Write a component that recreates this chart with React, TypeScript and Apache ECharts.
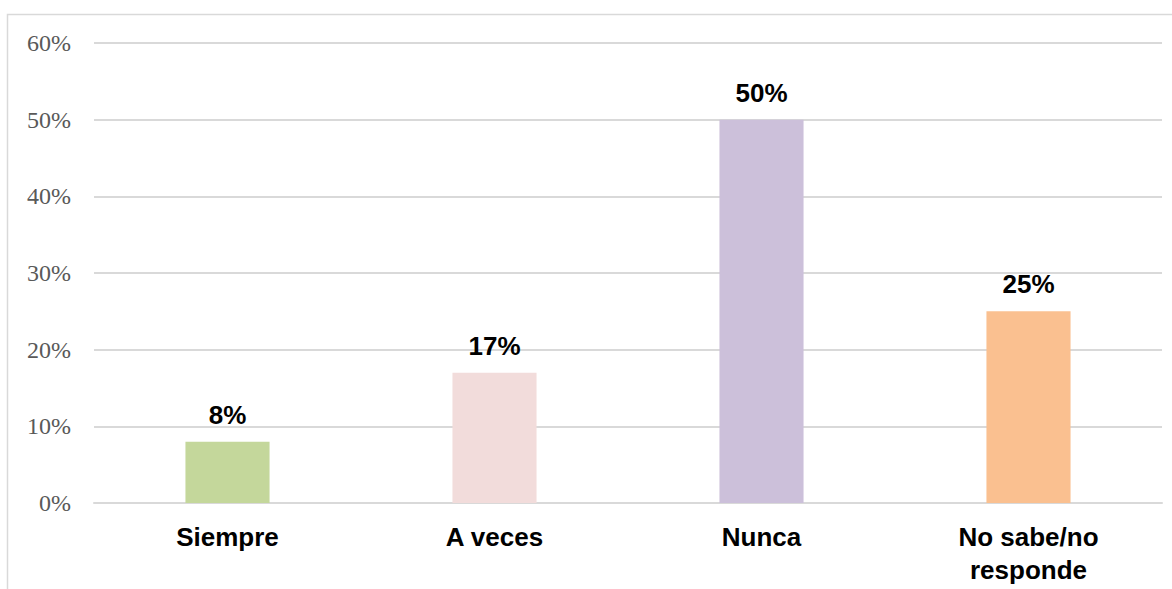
import React, { useEffect, useRef } from "react";
import * as echarts from "echarts";

const categories = ["Siempre", "A veces", "Nunca", "No sabe/no\nresponde"];
const values = [0.08, 0.17, 0.5, 0.25];
const barColors = ["#C4D79B", "#F2DCDB", "#CCC0DA", "#FAC090"];
const yTicks = [0, 0.1, 0.2, 0.3, 0.4, 0.5, 0.6];

export default function App() {
  const ref = useRef<HTMLDivElement>(null);
  useEffect(() => {
    if (!ref.current) return;
    const chart = echarts.init(ref.current, undefined, { renderer: "svg" });
    chart.setOption({
      animation: false,
      backgroundColor: "#ffffff",
      graphic: [
        {
          type: "rect",
          shape: { x: 7.5, y: 14.5, width: 1300, height: 800 },
          style: { fill: "none", stroke: "#D9D9D9", lineWidth: 1.5 },
          silent: true,
        },
      ],
      grid: { left: 94, right: 10, top: 43, bottom: 86, containLabel: false },
      xAxis: {
        type: "category",
        data: categories,
        axisLine: { show: true, lineStyle: { color: "#D9D9D9", width: 2 } },
        axisTick: { show: false },
        axisLabel: {
          color: "#000000",
          fontFamily: "Liberation Sans, Arial, sans-serif",
          fontWeight: "bold",
          fontSize: 26,
          lineHeight: 33,
          margin: 17,
          interval: 0,
        },
      },
      yAxis: {
        type: "value",
        min: yTicks[0],
        max: yTicks[yTicks.length - 1],
        interval: 0.1,
        axisLine: { show: false },
        axisTick: { show: false },
        splitLine: { lineStyle: { color: "#D9D9D9", width: 2 } },
        axisLabel: {
          color: "#595959",
          fontFamily: "Liberation Serif, Times New Roman, serif",
          fontSize: 24,
          margin: 23,
          formatter: (v: number) => Math.round(v * 100) + "%",
        },
      },
      series: [
        {
          type: "bar",
          barWidth: "31.5%",
          data: values.map((v, i) => ({ value: v, itemStyle: { color: barColors[i] } })),
          label: {
            show: true,
            position: "top",
            distance: 14,
            color: "#000000",
            fontFamily: "Liberation Sans, Arial, sans-serif",
            fontWeight: "bold",
            fontSize: 26,
            formatter: (p: any) => Math.round(p.value * 100) + "%",
          },
        },
      ],
    });
    return () => chart.dispose();
  }, []);
  return (
    <div
      ref={ref}
      style={{ position: "fixed", left: 0, top: 0, width: 1172, height: 589 }}
    />
  );
}
